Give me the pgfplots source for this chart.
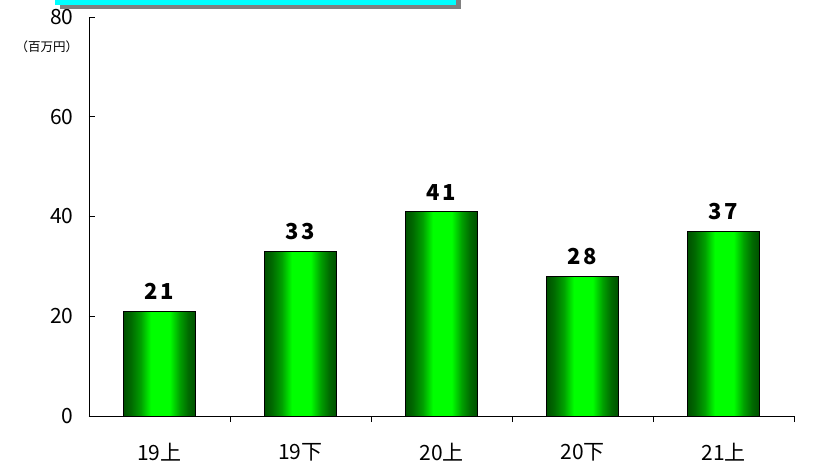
\documentclass[border=0pt]{standalone}
\usepackage{fontspec}
\setmainfont{Noto Sans CJK JP}
\usepackage{pgfplots}
\pgfplotsset{compat=1.18}
\definecolor{darkg}{RGB}{0,80,0}
\definecolor{dmidg}{RGB}{0,105,0}
\definecolor{midg}{RGB}{0,160,0}
\definecolor{brightg}{RGB}{0,255,0}
\definecolor{boxcyan}{RGB}{0,255,255}
\definecolor{boxshadow}{RGB}{128,128,128}
\pgfdeclarehorizontalshading{barshade}{100bp}{color(0bp)=(darkg); color(25bp)=(darkg); color(30bp)=(dmidg); color(37bp)=(midg); color(44bp)=(brightg); color(57bp)=(brightg); color(64bp)=(midg); color(70bp)=(dmidg); color(75bp)=(darkg); color(100bp)=(darkg)}
\begin{document}
\begin{tikzpicture}
\begin{axis}[
  scale only axis, width=705pt, height=399pt,
  at={(0,0)}, anchor=south west,
  xmin=-0.5, xmax=4.5, ymin=0, ymax=80,
  axis lines*=left,
  axis line style={black, line width=0.9pt},
  tick align=inside,
  ytick={0,20,40,60,80},
  major tick length=6pt,
  tick style={black, line width=0.8pt},
  xtick={0.5,1.5,2.5,3.5,4.5}, xticklabels={},
  extra x ticks={0,1,2,3,4},
  extra x tick labels={19上,19下,20上,20下,21上},
  extra x tick style={major tick length=0pt},
  xticklabel style={font=\fontsize{21}{24}\selectfont, yshift=-24pt},
  yticklabel style={font=\fontsize{21}{24}\selectfont, xshift=-12pt},
  /pgf/number format/assume math mode=true,
  ybar, bar width=72pt, bar shift=0pt,
  nodes near coords,
  every node near coord/.append style={font=\fontsize{22}{26}\bfseries\selectfont\addfontfeature{LetterSpace=12}, anchor=south, inner sep=0pt, yshift=11pt, black},
  clip=false,
]
\addplot[draw=black, line width=1pt, shading=barshade] coordinates {(0,21)};
\addplot[draw=black, line width=1pt, shading=barshade] coordinates {(1,33)};
\addplot[draw=black, line width=1pt, shading=barshade] coordinates {(2,41)};
\addplot[draw=black, line width=1pt, shading=barshade] coordinates {(3,28)};
\addplot[draw=black, line width=1pt, shading=barshade] coordinates {(4,37)};
\end{axis}
\node[font=\fontsize{12.5}{15}\selectfont] at (-42pt,369pt) {（百万円）};
\fill[boxshadow] (-29pt,406.5pt) rectangle (372pt,430pt);
\fill[boxcyan] (-34pt,411pt) rectangle (367pt,430pt);
\pgfresetboundingbox
\useasboundingbox (-89pt,-51pt) rectangle (730pt,416pt);
\end{tikzpicture}
\end{document}
